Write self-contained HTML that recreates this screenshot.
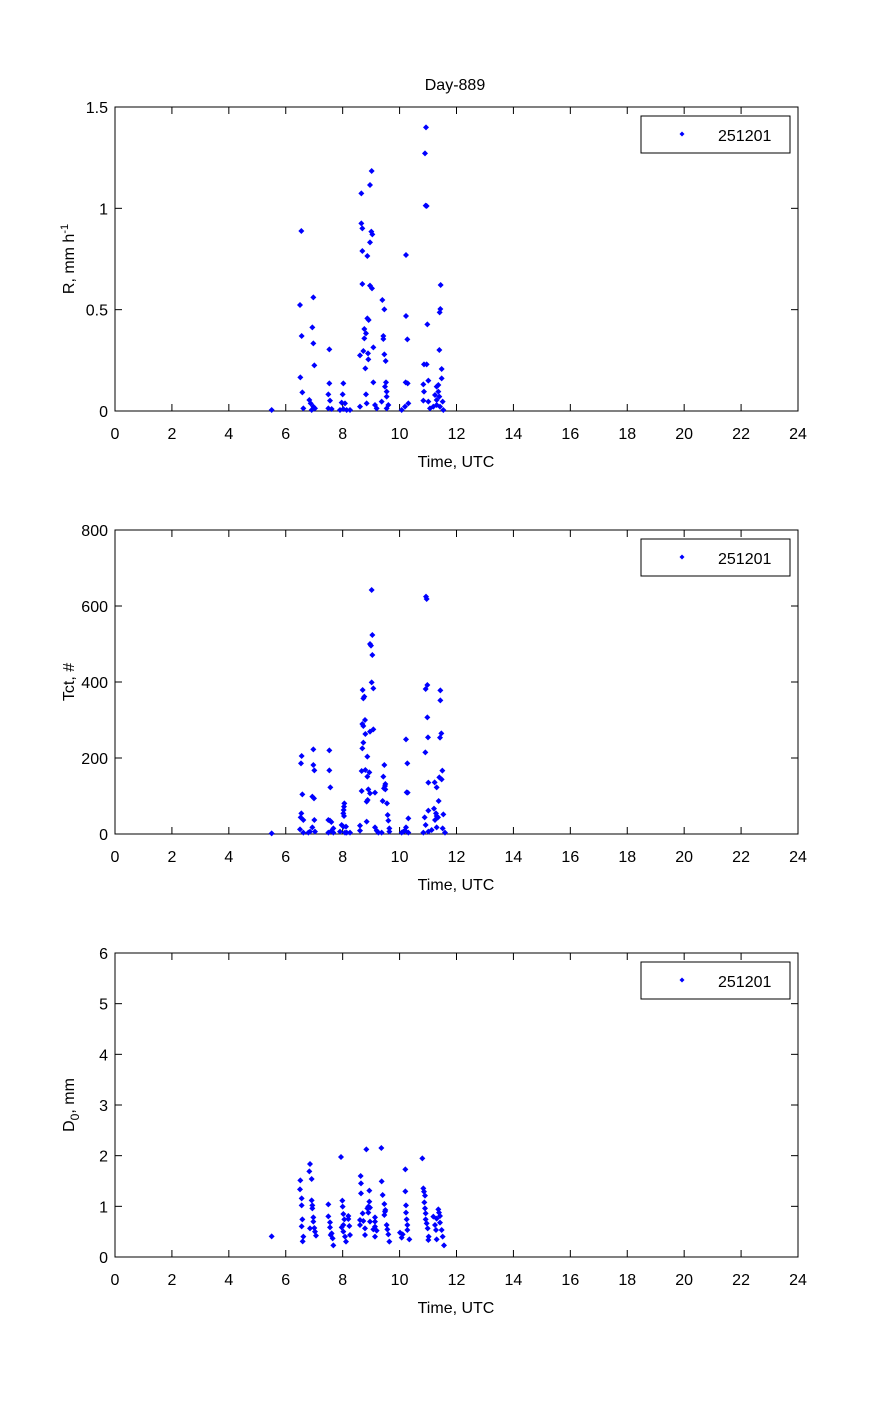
<!DOCTYPE html>
<html><head><meta charset="utf-8"><style>
body{margin:0;background:#fff}
svg{display:block}
text{font-family:"Liberation Sans",sans-serif;font-size:16px;fill:#000}
</style></head><body>
<svg id="s" width="883" height="1412" xmlns="http://www.w3.org/2000/svg">
<rect width="883" height="1412" fill="#fff"/>
<text x="455" y="90" text-anchor="middle">Day-889</text>
<g id="g"></g>
</svg>
<script>
var g=document.getElementById('g');var h='';
var L=115,R=798,W=R-L;
var plots=[
 {t:107,b:411,yl:['0','0.5','1','1.5']},
 {t:530,b:834,yl:['0','200','400','600','800']},
 {t:953,b:1257,yl:['0','1','2','3','4','5','6']}
];
plots.forEach(function(p,i){
 h+='<rect x="'+L+'" y="'+p.t+'" width="'+W+'" height="'+(p.b-p.t)+'" fill="none" stroke="#000" stroke-width="1"/>';
 for(var k=0;k<=12;k++){var x=L+W*k/12;
  h+='<line x1="'+x+'" y1="'+p.b+'" x2="'+x+'" y2="'+(p.b-7)+'" stroke="#000"/>';
  h+='<line x1="'+x+'" y1="'+p.t+'" x2="'+x+'" y2="'+(p.t+7)+'" stroke="#000"/>';
  h+='<text x="'+x+'" y="'+(p.b+28)+'" text-anchor="middle">'+(2*k)+'</text>';}
 var n=p.yl.length-1;
 for(var k=0;k<=n;k++){var y=p.b-(p.b-p.t)*k/n;
  h+='<line x1="'+L+'" y1="'+y+'" x2="'+(L+7)+'" y2="'+y+'" stroke="#000"/>';
  h+='<line x1="'+R+'" y1="'+y+'" x2="'+(R-7)+'" y2="'+y+'" stroke="#000"/>';
  h+='<text x="'+(L-7)+'" y="'+(y+6)+'" text-anchor="end">'+p.yl[k]+'</text>';}
 h+='<text x="456" y="'+(p.b+56)+'" text-anchor="middle">Time, UTC</text>';
 var lt=p.t+9;
 h+='<rect x="641" y="'+lt+'" width="149" height="37" fill="#fff" stroke="#000"/>';
 h+='<polygon points="682,'+(lt+15.5)+' 684.5,'+(lt+18)+' 682,'+(lt+20.5)+' 679.5,'+(lt+18)+'" fill="#00f"/>';
 h+='<text x="718" y="'+(lt+25)+'">251201</text>';
});
h+='<text transform="translate(74,259) rotate(-90)" text-anchor="middle">R, mm h<tspan dy="-6" font-size="11">-1</tspan></text>';
h+='<text transform="translate(74,682) rotate(-90)" text-anchor="middle">Tct, #</text>';
h+='<text transform="translate(74,1105) rotate(-90)" text-anchor="middle">D<tspan dy="5" font-size="12">0</tspan><tspan dy="-5">, mm</tspan></text>';
var d1=[[35,900],[124,363],[120,585],[160,562],[125,678],[157,652],[160,700],[208,718],[163,766],[121,802],[127,847],[148,870],[152,880],[160,890],[130,895],[165,895],[155,900],[208,820],[205,853],[210,872],[205,895],[215,897],[250,820],[248,853],[245,878],[255,880],[250,897],[260,900],[270,900],[240,900],[304,250],[330,225],[335,183],[304,340],[307,355],[334,365],[337,373],[330,397],[307,423],[322,438],[307,522],[330,527],[336,535],[322,625],[326,630],[313,657],[318,670],[313,685],[310,723],[300,736],[324,730],[325,748],[316,775],[340,712],[340,817],[318,853],[320,880],[300,890],[345,885],[350,895],[367,570],[373,598],[370,678],[370,687],[373,733],[377,753],[378,817],[375,830],[380,845],[380,860],[365,875],[385,885],[380,895],[438,435],[438,618],[442,688],[437,817],[443,820],[445,880],[435,890],[425,900],[498,52],[495,130],[497,287],[500,288],[502,643],[492,763],[500,763],[505,812],[490,823],[492,845],[490,872],[505,875],[510,895],[542,525],[541,597],[539,607],[538,720],[545,777],[545,805],[535,825],[530,830],[535,845],[525,855],[538,860],[530,870],[548,875],[530,885],[540,890],[520,890],[550,900]];
var d2=[[35,760],[335,30],[498,50],[500,57],[337,165],[330,192],[333,197],[337,225],[335,307],[340,325],[308,330],[313,350],[310,355],[307,432],[310,438],[315,420],[316,462],[330,455],[340,448],[310,488],[307,505],[322,530],[305,573],[316,570],[322,590],[328,577],[305,633],[325,628],[330,640],[323,660],[320,665],[345,638],[320,725],[300,737],[300,752],[345,742],[350,752],[355,758],[125,528],[123,550],[160,508],[160,555],[163,571],[127,643],[157,650],[162,655],[124,700],[122,712],[130,720],[163,720],[120,748],[157,742],[150,755],[165,755],[130,758],[145,758],[208,511],[208,571],[211,622],[205,720],[210,722],[214,726],[220,745],[215,752],[205,758],[220,758],[253,670],[252,680],[251,690],[250,700],[252,708],[245,735],[250,740],[258,740],[240,755],[260,758],[270,758],[255,758],[373,555],[370,590],[376,612],[375,618],[372,625],[376,628],[381,670],[368,663],[383,705],[385,722],[388,745],[388,755],[365,758],[438,478],[442,550],[440,637],[443,638],[445,715],[438,742],[435,752],[425,758],[445,758],[430,755],[502,315],[497,327],[502,412],[504,472],[496,517],[505,608],[497,735],[494,712],[505,692],[522,686],[528,700],[530,708],[534,712],[525,720],[536,663],[530,622],[524,607],[538,592],[545,598],[547,572],[540,473],[544,460],[541,361],[541,331],[550,703],[548,745],[530,742],[515,750],[505,755],[490,758],[555,758]];
var d3=[[35,289],[121,121],[150,72],[148,94],[155,117],[120,148],[125,175],[125,196],[155,181],[157,196],[157,205],[127,238],[160,232],[160,245],[125,259],[163,264],[150,265],[165,275],[168,287],[130,290],[128,304],[243,51],[205,193],[205,229],[210,247],[210,262],[215,280],[212,285],[218,295],[220,316],[247,182],[248,200],[250,222],[265,228],[265,237],[253,238],[245,262],[250,255],[268,258],[250,275],[255,290],[270,285],[258,305],[319,28],[364,24],[302,108],[303,130],[328,152],[303,160],[328,185],[325,200],[322,205],[330,203],[308,220],[325,218],[345,232],[300,240],[310,243],[330,245],[345,245],[300,255],[315,265],[345,260],[340,268],[350,272],[315,285],[345,290],[365,124],[368,165],[373,192],[376,210],[373,225],[380,255],[382,268],[385,283],[388,305],[375,215],[436,88],[436,154],[438,196],[438,218],[440,238],[442,255],[442,270],[420,278],[428,283],[448,298],[425,293],[487,55],[490,145],[492,155],[495,167],[493,187],[495,205],[497,220],[497,238],[500,250],[503,265],[506,290],[505,300],[535,208],[537,218],[540,228],[520,230],[530,236],[540,248],[525,255],[528,270],[545,270],[548,290],[530,298],[552,316]];
function pts(d,oy){d.forEach(function(q){var x=260+q[0]/3,y=oy+q[1]/3;
 h+='<polygon points="'+x+','+(y-3)+' '+(x+3)+','+y+' '+x+','+(y+3)+' '+(x-3)+','+y+'" fill="#00f"/>';});}
pts(d1,110);pts(d2,580);pts(d3,1140);
g.innerHTML=h;
</script>
</body></html>
